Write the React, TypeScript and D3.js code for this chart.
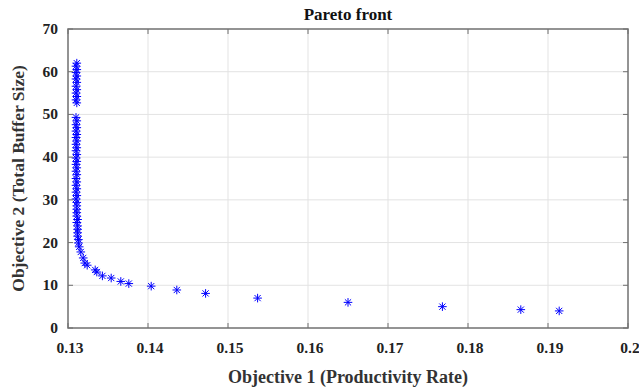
import React from "react";
import * as d3 from "d3";

const WIDTH = 639;
const HEIGHT = 388;
const margin = { top: 29, right: 11, bottom: 60, left: 68 };

// vertical cluster near the minimum productivity rate
const columnX = [
  0.1311, 0.1310, 0.1311, 0.1310, 0.1311, 0.1310, 0.1311, 0.1310, 0.1311, 0.1310, 0.1311, 0.1310, 0.1311,
  0.1310, 0.1311, 0.1310, 0.1311, 0.1310, 0.1311, 0.1310, 0.1311, 0.1310, 0.1311, 0.1310, 0.1311, 0.1310,
  0.1311, 0.1310, 0.1311, 0.1310, 0.1311, 0.1310, 0.1311, 0.1310, 0.1311, 0.1310, 0.1311, 0.1310, 0.1311,
  0.1311, 0.1311, 0.1311, 0.1311, 0.1312, 0.1311, 0.1312, 0.1312, 0.1312, 0.1312, 0.1313, 0.1313,
];
const columnY = [
  62.0, 61.3, 60.5, 59.8, 59.0, 58.3, 57.5, 56.6, 55.8, 55.0, 54.2, 53.4, 52.7,
  49.3, 48.5, 47.6, 46.9, 46.1, 45.3, 44.6, 43.8, 43.0, 42.2, 41.5, 40.6, 39.8,
  39.0, 38.3, 37.5, 36.7, 35.9, 35.0, 34.2, 33.4, 32.6, 31.8, 31.0, 30.2, 29.4,
  28.6, 27.8, 27.0, 26.2, 25.4, 24.7, 23.9, 23.1, 22.3, 21.5, 20.7, 19.9,
];
// knee and tail of the front
const tailX = [
  0.1314, 0.1316, 0.1319, 0.1321, 0.1324, 0.1334, 0.1336, 0.1343, 0.1354, 0.1366, 0.1376,
  0.1404, 0.1436, 0.1472, 0.1537, 0.1650, 0.1768, 0.1866, 0.1914,
];
const tailY = [
  19.0, 17.8, 16.4, 15.2, 14.7, 13.6, 13.1, 12.2, 11.7, 10.9, 10.4,
  9.8, 8.9, 8.1, 7.0, 6.0, 5.0, 4.3, 4.0,
];

const xTicks = [0.13, 0.14, 0.15, 0.16, 0.17, 0.18, 0.19, 0.2];
const yTicks = [0, 10, 20, 30, 40, 50, 60, 70];

const font = "'Liberation Serif', 'Times New Roman', serif";

export default function App() {
  const innerW = WIDTH - margin.left - margin.right;
  const innerH = HEIGHT - margin.top - margin.bottom;
  const x = d3.scaleLinear().domain([0.13, 0.2]).range([margin.left, margin.left + innerW]);
  const y = d3.scaleLinear().domain([0, 70]).range([margin.top + innerH, margin.top]);

  const points = [
    ...columnX.map((v, i) => [v, columnY[i]]),
    ...tailX.map((v, i) => [v, tailY[i]]),
  ];
  const r = 4.3;
  const d = r * 0.72;
  const axisColor = "#707070";
  const x0 = x.range()[0], x1 = x.range()[1];
  const y0 = y.range()[0], y1 = y.range()[1];

  return (
    <svg width={WIDTH} height={HEIGHT} style={{ position: "absolute", left: 0, top: 0, background: "#fff" }}>
      {/* grid */}
      {xTicks.slice(1, -1).map((t) => (
        <line key={"gx" + t} x1={x(t)} x2={x(t)} y1={y1} y2={y0} stroke="#e3e3e3" strokeWidth={1} />
      ))}
      {yTicks.slice(1, -1).map((t) => (
        <line key={"gy" + t} x1={x0} x2={x1} y1={y(t)} y2={y(t)} stroke="#e3e3e3" strokeWidth={1} />
      ))}

      {/* markers */}
      {points.map(([px, py], i) => {
        const cx = x(px), cy = y(py);
        return (
          <g key={i} stroke="#0000ff" strokeWidth={1}>
            <line x1={cx - r} x2={cx + r} y1={cy} y2={cy} />
            <line x1={cx} x2={cx} y1={cy - r} y2={cy + r} />
            <line x1={cx - d} x2={cx + d} y1={cy - d} y2={cy + d} />
            <line x1={cx - d} x2={cx + d} y1={cy + d} y2={cy - d} />
          </g>
        );
      })}

      {/* box and ticks */}
      <rect x={x0} y={y1} width={x1 - x0} height={y0 - y1} fill="none" stroke={axisColor} strokeWidth={1.5} />
      {xTicks.map((t) => (
        <g key={"tx" + t}>
          <line x1={x(t)} x2={x(t)} y1={y0} y2={y0 - 5} stroke={axisColor} />
          <line x1={x(t)} x2={x(t)} y1={y1} y2={y1 + 5} stroke={axisColor} />
          <text x={x(t) + 2} y={y0 + 25} textAnchor="middle" fontFamily={font} fontWeight="bold" fontSize={15.5} fill="#222">
            {d3.format("")(t)}
          </text>
        </g>
      ))}
      {yTicks.map((t) => (
        <g key={"ty" + t}>
          <line x1={x0} x2={x0 + 5} y1={y(t)} y2={y(t)} stroke={axisColor} />
          <line x1={x1} x2={x1 - 5} y1={y(t)} y2={y(t)} stroke={axisColor} />
          <text x={x0 - 10} y={y(t) + 5} textAnchor="end" fontFamily={font} fontWeight="bold" fontSize={15.5} fill="#222">
            {t}
          </text>
        </g>
      ))}

      <text x={(x0 + x1) / 2} y={20} textAnchor="middle" fontFamily={font} fontWeight="bold" fontSize={17} fill="#111">
        Pareto front
      </text>
      <text x={(x0 + x1) / 2} y={383} textAnchor="middle" fontFamily={font} fontWeight="bold" fontSize={18} fill="#333">
        Objective 1 (Productivity Rate)
      </text>
      <text
        transform={`translate(24, ${(y0 + y1) / 2}) rotate(-90)`}
        textAnchor="middle"
        fontFamily={font}
        fontWeight="bold"
        fontSize={17.5}
        fill="#333"
      >
        Objective 2 (Total Buffer Size)
      </text>
    </svg>
  );
}
